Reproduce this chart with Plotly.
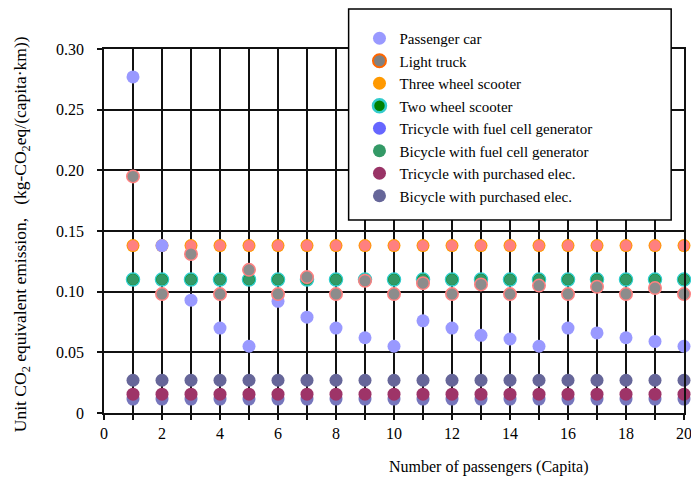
import plotly.graph_objects as go

passengers = [1, 2, 3, 4, 5, 6, 7, 8, 9, 10, 11, 12, 13, 14, 15, 16, 17, 18, 19, 20]
passenger_car = [0.277, 0.138, 0.093, 0.070, 0.055, 0.092, 0.079, 0.070, 0.062, 0.055,
                 0.076, 0.070, 0.064, 0.061, 0.055, 0.070, 0.066, 0.062, 0.059, 0.055]
light_truck = [0.195, 0.098, 0.131, 0.098, 0.118, 0.098, 0.112, 0.098, 0.109, 0.098,
               0.107, 0.098, 0.106, 0.098, 0.105, 0.098, 0.104, 0.098, 0.103, 0.098]
three_wheel_scooter = [0.138, 0.138, 0.138, 0.138, 0.138, 0.138, 0.138, 0.138, 0.138, 0.138,
                       0.138, 0.138, 0.138, 0.138, 0.138, 0.138, 0.138, 0.138, 0.138, 0.138]
two_wheel_scooter = [0.110, 0.110, 0.110, 0.110, 0.110, 0.110, 0.110, 0.110, 0.110, 0.110,
                     0.110, 0.110, 0.110, 0.110, 0.110, 0.110, 0.110, 0.110, 0.110, 0.110]
tricycle_fuel_cell = [0.0115, 0.0115, 0.0115, 0.0115, 0.0115, 0.0115, 0.0115, 0.0115, 0.0115, 0.0115,
                      0.0115, 0.0115, 0.0115, 0.0115, 0.0115, 0.0115, 0.0115, 0.0115, 0.0115, 0.0115]
bicycle_fuel_cell = [0.110, 0.110, 0.110, 0.110, 0.110, 0.110, 0.110, 0.110, 0.110, 0.110,
                     0.110, 0.110, 0.110, 0.110, 0.110, 0.110, 0.110, 0.110, 0.110, 0.110]
tricycle_purchased = [0.0155, 0.0155, 0.0155, 0.0155, 0.0155, 0.0155, 0.0155, 0.0155, 0.0155, 0.0155,
                      0.0155, 0.0155, 0.0155, 0.0155, 0.0155, 0.0155, 0.0155, 0.0155, 0.0155, 0.0155]
bicycle_purchased = [0.027, 0.027, 0.027, 0.027, 0.027, 0.027, 0.027, 0.027, 0.027, 0.027,
                     0.027, 0.027, 0.027, 0.027, 0.027, 0.027, 0.027, 0.027, 0.027, 0.027]

y_tickvals = [0, 0.05, 0.10, 0.15, 0.20, 0.25, 0.30]
y_ticktext = ["0", "0.05", "0.10", "0.15", "0.20", "0.25", "0.30"]

legend_names = ["Passenger car", "Light truck", "Three wheel scooter", "Two wheel scooter",
                "Tricycle with fuel cell generator", "Bicycle with fuel cell generator",
                "Tricycle with purchased elec.", "Bicycle with purchased elec."]
legend_fill = ["#9999FF", "#808080", "#FF9900", "#008000", "#6666FF", "#339966", "#993366", "#666699"]
legend_line = ["#9999FF", "#FF6600", "#FF9900", "#33CCCC", "#6666FF", "#339966", "#993366", "#666699"]
legend_lw = [0, 2, 0, 2.5, 0, 0, 0, 0]

FONT = "Liberation Serif, Times New Roman, Times, serif"
S = 13
OFF = 8  # page body margin

fig = go.Figure()

def pts(y, color, size=S, line_color=None, lw=0):
    fig.add_trace(go.Scatter(
        x=passengers, y=y, mode="markers", showlegend=False, cliponaxis=False,
        marker=dict(size=size, color=color,
                    line=dict(color=line_color or color, width=lw)),
        hoverinfo="skip"))

# plotted marks (draw order matters for overlaps)
pts(bicycle_purchased, "#666699")
pts(tricycle_fuel_cell, "#7676BC")
pts(tricycle_purchased, "#9E3468")
pts(two_wheel_scooter, "#008000", line_color="#33CCCC", lw=1.5)
pts(bicycle_fuel_cell, "#339966", size=11)
pts(three_wheel_scooter, "#FF9900")
pts(three_wheel_scooter, "#FF8080", size=11)
pts(passenger_car, "#9999FF")
pts(light_truck, "#8C8C8C", size=12.5, line_color="#FF8080", lw=1.5)

# legend entries
for n, fc, lc, lw in zip(legend_names, legend_fill, legend_line, legend_lw):
    fig.add_trace(go.Scatter(
        x=[None], y=[None], mode="markers", name=n,
        marker=dict(size=S, color=fc, line=dict(color=lc, width=lw))))

W, H = 699 - OFF, 484 - OFF
# screen-coordinate plot box
SX0, SX1, SY0, SY1 = 104, 692, 49, 413
L, T = SX0 - OFF, SY0 - OFF
R, B = W - (SX1 - OFF), H - (SY1 - OFF)
pw, ph = SX1 - SX0, SY1 - SY0

def px(xs):
    return (xs - SX0) / pw

def py(ys):
    return (SY1 - ys) / ph

fig.add_shape(type="rect", xref="paper", yref="paper",
              x0=px(352), x1=px(679), y0=py(220), y1=py(9),
              fillcolor="white", line=dict(color="black", width=1.5), layer="above")

axis_common = dict(showgrid=True, gridcolor="#111", gridwidth=1.5,
                   showline=True, linecolor="#111", linewidth=1.5, mirror=True,
                   ticks="outside", ticklen=5, tickcolor="#111", tickwidth=1.5,
                   zeroline=False, tickfont=dict(family=FONT, size=16))

fig.update_layout(
    width=W, height=H,
    margin=dict(l=L, r=R, t=T, b=B),
    plot_bgcolor="white", paper_bgcolor="white",
    font=dict(family=FONT, size=15, color="black"),
    showlegend=True,
    legend=dict(x=px(363), y=py(22), xanchor="left", yanchor="top",
                bgcolor="rgba(0,0,0,0)", borderwidth=0,
                font=dict(family=FONT, size=15, color="black"),
                tracegroupgap=0, itemsizing="trace"),
    xaxis=dict(range=[0, 20], tick0=0, dtick=2,
               minor=dict(dtick=1, showgrid=True, gridcolor="#111", gridwidth=1.5,
                          ticks="outside", ticklen=5, tickcolor="#111", tickwidth=1.5),
               **axis_common),
    yaxis=dict(range=[0, 0.30], tickvals=y_tickvals, ticktext=y_ticktext,
               ticklabelstandoff=10, **axis_common),
    annotations=[
        dict(text="Number of passengers (Capita)", xref="paper", yref="paper",
             x=px(494), y=py(467), showarrow=False, xanchor="center", yanchor="middle",
             font=dict(family=FONT, size=16)),
        dict(text="Unit CO<sub>2</sub> equivalent emission,   (kg-CO<sub>2</sub>eq/(capita·km))",
             xref="paper", yref="paper", x=px(20), y=py(234), textangle=-90,
             showarrow=False, xanchor="center", yanchor="middle",
             font=dict(family=FONT, size=17.5)),
    ],
)

fig.write_html("out.html")
